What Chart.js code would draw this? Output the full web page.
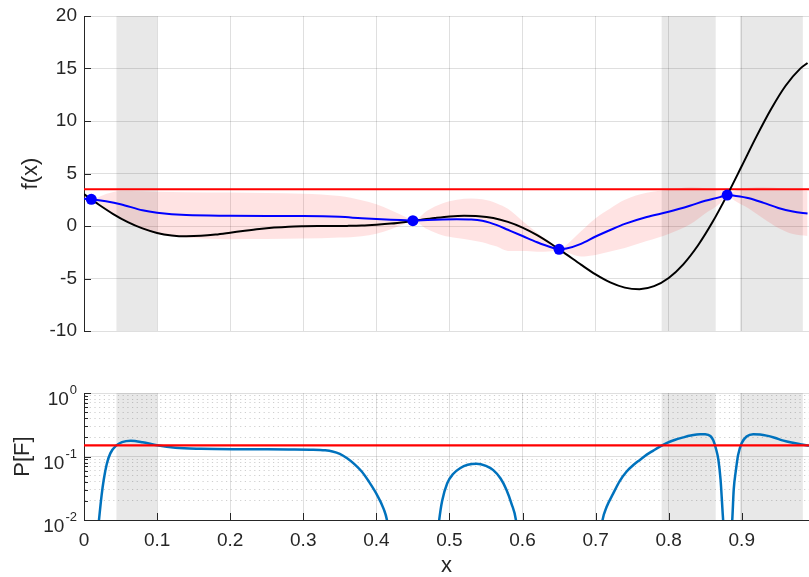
<!DOCTYPE html>
<html>
<head>
<meta charset="utf-8">
<script src="https://cdn.jsdelivr.net/npm/chart.js@4.4.0/dist/chart.umd.min.js"></script>
<style>
  html, body { margin: 0; padding: 0; background: #fff; }
  #wrap { position: relative; width: 809px; height: 577px; overflow: hidden; }
  #topChart { position: absolute; left: 0; top: 0; }
  #botChart { position: absolute; left: 0; top: 360px; }
</style>
</head>
<body>
<div id="wrap">
  <canvas id="topChart" width="809" height="345"></canvas>
  <canvas id="botChart" width="809" height="217"></canvas>
</div>
<script>
// ---- data ----
const xTicks = [0, 0.1, 0.2, 0.3, 0.4, 0.5, 0.6, 0.7, 0.8, 0.9];
const fTicks = [-10, -5, 0, 5, 10, 15, 20];
const pfTicks = [0.01, 0.1, 1];

// true function (black)
const xTrue = [0, 0.02, 0.04, 0.06, 0.08, 0.1, 0.12, 0.14, 0.16, 0.18, 0.2, 0.22, 0.24, 0.26, 0.28, 0.3,
  0.32, 0.34, 0.36, 0.38, 0.4, 0.42, 0.44, 0.46, 0.48, 0.5, 0.52, 0.54, 0.56, 0.58, 0.6, 0.62, 0.64,
  0.66, 0.68, 0.7, 0.72, 0.74, 0.76, 0.78, 0.8, 0.82, 0.84, 0.86, 0.88, 0.9, 0.92, 0.94, 0.96, 0.98, 0.99];
const fTrue = [3.03, 2.05, 1.14, 0.37, -0.23, -0.66, -0.9, -0.98, -0.94, -0.82, -0.64, -0.45, -0.28, -0.15, -0.06, -0.02,
  0, 0, 0.01, 0.04, 0.12, 0.23, 0.39, 0.58, 0.76, 0.91, 0.98, 0.94, 0.76, 0.39, -0.15, -0.87, -1.74,
  -2.7, -3.68, -4.61, -5.37, -5.87, -6.02, -5.73, -4.95, -3.65, -1.86, 0.37, 2.94, 5.71, 8.51, 11.12, 13.36, 14.99, 15.52];

// GP mean and confidence band
const xGp = [0, 0.01, 0.03, 0.05, 0.08, 0.1, 0.14, 0.2, 0.25, 0.3, 0.35, 0.38, 0.4, 0.42, 0.44, 0.45, 0.47, 0.49,
  0.51, 0.53, 0.545, 0.555, 0.565, 0.58, 0.6, 0.62, 0.64, 0.65, 0.66, 0.68, 0.7, 0.72, 0.74, 0.77, 0.8, 0.83, 0.85,
  0.87, 0.88, 0.89, 0.91, 0.93, 0.95, 0.97, 0.99];
const gpMean = [2.6, 2.54, 2.35, 2.08, 1.5, 1.27, 1.04, 0.98, 0.96, 0.95, 0.87, 0.74, 0.67, 0.6, 0.54, 0.51, 0.58, 0.63,
  0.65, 0.62, 0.5, 0.32, 0.08, -0.36, -0.95, -1.55, -2.05, -2.22, -2.15, -1.7, -1.0, -0.38, 0.2, 0.86, 1.35, 1.95, 2.4,
  2.75, 2.95, 2.88, 2.65, 2.2, 1.72, 1.38, 1.18];
const gpUpper = [2.8, 2.54, 3.05, 3.33, 3.3, 3.27, 3.22, 3.18, 3.14, 3.08, 2.85, 2.45, 2.07, 1.5, 0.85, 0.51, 1.48, 2.15,
  2.5, 2.62, 2.55, 2.4, 2.15, 1.65, 0.48, -0.65, -1.7, -2.22, -1.8, -0.5, 0.75, 1.67, 2.5, 3.16, 3.45, 3.7, 3.6,
  3.35, 2.95, 3.33, 3.65, 3.7, 3.62, 3.53, 3.33];
const gpLower = [2.4, 2.54, 1.65, 0.83, -0.3, -0.73, -1.1, -1.25, -1.24, -1.2, -1.1, -0.97, -0.73, -0.3, 0.23, 0.51, -0.32, -0.89,
  -1.15, -1.36, -1.55, -1.75, -1.95, -2.37, -2.38, -2.45, -2.4, -2.22, -2.5, -2.9, -2.75, -2.43, -2.1, -1.44, -0.75, 0.2, 1.2,
  2.15, 2.95, 2.43, 1.65, 0.7, -0.18, -0.77, -0.95];

// observations
const xObs = [0.01, 0.45, 0.65, 0.88];
const fObs = [2.54, 0.51, -2.22, 2.95];
const threshold = 3.5;

// probability of failure (log axis), null = gap
const xPf = [0.018, 0.0205, 0.024, 0.027, 0.031, 0.036, 0.044, 0.052, 0.064, 0.08, 0.1, 0.125, 0.16, 0.22, 0.28, 0.31,
  0.33, 0.34, 0.35, 0.36, 0.37, 0.38, 0.39, 0.4, 0.41, 0.4145, 0.417, 0.45,
  0.484, 0.486, 0.49, 0.497, 0.505, 0.515, 0.525, 0.537, 0.55, 0.56, 0.57, 0.578, 0.585, 0.591, 0.593, 0.65,
  0.707, 0.7095, 0.715, 0.724, 0.733, 0.7425, 0.752, 0.761, 0.77, 0.779, 0.788, 0.797, 0.808, 0.82, 0.83, 0.843, 0.85,
  0.857, 0.861, 0.8645, 0.868, 0.871, 0.8745, 0.876, 0.88,
  0.8855, 0.887, 0.889, 0.892, 0.895, 0.8998, 0.9066, 0.9157, 0.925, 0.934, 0.945, 0.957, 0.968, 0.98, 0.992];
const pf = [0.005, 0.01, 0.024, 0.043, 0.075, 0.112, 0.148, 0.168, 0.177, 0.168, 0.15, 0.137, 0.132, 0.13, 0.129, 0.128,
  0.125, 0.12, 0.11, 0.094, 0.076, 0.058, 0.04, 0.026, 0.015, 0.01, 0.006, null,
  0.006, 0.01, 0.02, 0.038, 0.053, 0.066, 0.074, 0.077, 0.071, 0.061, 0.045, 0.03, 0.018, 0.01, 0.006, null,
  0.006, 0.01, 0.016, 0.026, 0.041, 0.058, 0.074, 0.089, 0.107, 0.124, 0.143, 0.162, 0.182, 0.2, 0.214, 0.225, 0.224,
  0.21, 0.18, 0.135, 0.089, 0.043, 0.01, 0.006, null,
  0.006, 0.01, 0.03, 0.061, 0.106, 0.162, 0.207, 0.225, 0.222, 0.213, 0.197, 0.178, 0.166, 0.156, 0.147];
const pfThreshold = 0.15;

const shadedRegions = [[0.0444, 0.1], [0.7904, 0.8643], [0.8975, 0.9835]];
const xMax = 0.992;

// ---- styling ----
const axisColor = '#262626';
const gridColor = 'rgba(38,38,38,0.15)';
const minorGridColor = 'rgba(38,38,38,0.22)';
const fontFamily = '"Liberation Sans", Arial, sans-serif';
Chart.defaults.font.family = fontFamily;
Chart.defaults.color = axisColor;

const pts = (xs, ys) => xs.map((x, i) => ({ x: x, y: ys[i] }));
const isDecade = v => pfTicks.some(d => Math.abs(d - v) < 1e-12);

// fixed axis width, no extra label overflow padding
const fixWidth = s => {
    s.width = 84;
    s.paddingTop = 0;
    s.paddingBottom = 0;
};

// gray shaded x-ranges, under the grid
const shading = {
    id: 'shading',
    beforeDraw(chart) {
        const { ctx, chartArea: a, scales: { x } } = chart;
        ctx.save();
        ctx.fillStyle = '#e8e8e8';
        shadedRegions.forEach(([x0, x1]) => {
            const p0 = x.getPixelForValue(x0);
            const p1 = x.getPixelForValue(x1);
            ctx.fillRect(p0, a.top, p1 - p0, a.bottom - a.top);
        });
        ctx.restore();
    }
};

// MATLAB style ticks pointing into the axes
const innerTicks = {
    id: 'innerTicks',
    afterDraw(chart, args, opts) {
        const { ctx, chartArea: a, scales: { x, y } } = chart;
        ctx.save();
        ctx.strokeStyle = axisColor;
        ctx.lineWidth = 1;
        ctx.beginPath();
        y.ticks.forEach(t => {
            const py = Math.round(y.getPixelForValue(t.value)) + 0.5;
            const len = (opts.log && !isDecade(t.value)) ? 4 : 7;
            ctx.moveTo(a.left, py);
            ctx.lineTo(a.left + len, py);
        });
        if (opts.xTicks) {
            x.ticks.forEach(t => {
                const px = Math.round(x.getPixelForValue(t.value)) + 0.5;
                ctx.moveTo(px, a.bottom);
                ctx.lineTo(px, a.bottom - 7);
            });
        }
        ctx.stroke();
        ctx.restore();
    }
};

// 10^n labels for the log axis
const logLabels = {
    id: 'logLabels',
    afterDraw(chart) {
        const { ctx, scales: { y } } = chart;
        ctx.save();
        ctx.fillStyle = axisColor;
        ctx.textAlign = 'right';
        ctx.textBaseline = 'alphabetic';
        pfTicks.forEach(v => {
            const py = y.getPixelForValue(v);
            const exp = String(Math.round(Math.log10(v)));
            ctx.font = '13px ' + fontFamily;
            const ew = ctx.measureText(exp).width;
            ctx.fillText(exp, 77, py + 1);
            ctx.font = '19px ' + fontFamily;
            ctx.fillText('10', 77 - ew - 1, py + 12);
        });
        ctx.restore();
    }
};

const xAxis = (showLabels) => ({
    type: 'linear',
    min: 0,
    max: xMax,
    afterBuildTicks: s => { s.ticks = xTicks.map(v => ({ value: v })); },
    grid: { color: gridColor, drawTicks: false },
    border: { display: showLabels, color: axisColor },
    ticks: {
        display: showLabels,
        padding: 9,
        font: { size: 19 },
        callback: v => String(v)
    },
    title: {
        display: showLabels,
        text: 'x',
        font: { size: 22 },
        padding: { top: 0, bottom: -2 }
    },
    afterFit: s => { s.height = showLabels ? 57 : 0; }
});

// ---- top panel ----
new Chart(document.getElementById('topChart'), {
    type: 'line',
    data: {
        datasets: [
            {
                data: pts(xObs, fObs),
                showLine: false,
                pointRadius: 5.5,
                pointBackgroundColor: '#0000ff',
                pointBorderWidth: 0
            },
            {
                data: pts(xGp, gpMean),
                borderColor: '#0000ff',
                borderWidth: 2,
                pointRadius: 0,
                cubicInterpolationMode: 'monotone'
            },
            {
                data: pts(xTrue, fTrue),
                borderColor: '#000000',
                borderWidth: 2,
                pointRadius: 0,
                cubicInterpolationMode: 'monotone'
            },
            {
                data: pts([0, xMax], [threshold, threshold]),
                borderColor: '#ff0000',
                borderWidth: 2,
                pointRadius: 0
            },
            {
                data: pts(xGp, gpUpper),
                borderWidth: 0,
                pointRadius: 0,
                backgroundColor: 'rgba(255,0,0,0.11)',
                fill: '+1',
                cubicInterpolationMode: 'monotone'
            },
            {
                data: pts(xGp, gpLower),
                borderWidth: 0,
                pointRadius: 0,
                fill: false,
                cubicInterpolationMode: 'monotone'
            }
        ]
    },
    options: {
        responsive: false,
        animation: false,
        layout: { autoPadding: false, padding: { top: 16, bottom: 14, left: 0, right: 0 } },
        plugins: {
            legend: { display: false },
            tooltip: { enabled: false },
            innerTicks: { log: false, xTicks: false }
        },
        scales: {
            x: xAxis(false),
            y: {
                min: -10,
                max: 20,
                afterBuildTicks: s => { s.ticks = fTicks.map(v => ({ value: v })); },
                grid: { color: gridColor, drawTicks: false },
                border: { color: axisColor },
                ticks: { padding: 7, font: { size: 19 } },
                title: {
                    display: true,
                    text: 'f(x)',
                    font: { size: 22 },
                    padding: { top: 18, bottom: 0 }
                },
                afterFit: fixWidth
            }
        }
    },
    plugins: [shading, innerTicks]
});

// ---- bottom panel ----
const pfGrid = [];
pfTicks.forEach(d => {
    pfGrid.push(d);
    if (d < 1) for (let m = 2; m <= 9; m++) pfGrid.push(m * d);
});

new Chart(document.getElementById('botChart'), {
    type: 'line',
    data: {
        datasets: [
            {
                data: pts([0, xMax], [pfThreshold, pfThreshold]),
                borderColor: '#ff0000',
                borderWidth: 2.2,
                pointRadius: 0
            },
            {
                data: pts(xPf, pf),
                borderColor: '#0072BD',
                borderWidth: 2.5,
                pointRadius: 0,
                spanGaps: false,
                cubicInterpolationMode: 'monotone'
            }
        ]
    },
    options: {
        responsive: false,
        animation: false,
        layout: { autoPadding: false, padding: { top: 33, bottom: 0, left: 0, right: 0 } },
        plugins: {
            legend: { display: false },
            tooltip: { enabled: false },
            innerTicks: { log: true, xTicks: true }
        },
        scales: {
            x: xAxis(true),
            y: {
                type: 'logarithmic',
                min: 0.01,
                max: 1,
                afterBuildTicks: s => { s.ticks = pfGrid.map(v => ({ value: v })); },
                grid: {
                    drawTicks: false,
                    color: c => (c.tick && !isDecade(c.tick.value)) ? minorGridColor : gridColor
                },
                border: {
                    color: axisColor,
                    dash: c => (c.tick && !isDecade(c.tick.value)) ? [1.2, 3.5] : []
                },
                ticks: { display: false },
                title: {
                    display: true,
                    text: 'P[F]',
                    font: { size: 22 },
                    padding: { top: 10, bottom: 0 }
                },
                afterFit: fixWidth
            }
        }
    },
    plugins: [shading, innerTicks, logLabels]
});
</script>
</body>
</html>
